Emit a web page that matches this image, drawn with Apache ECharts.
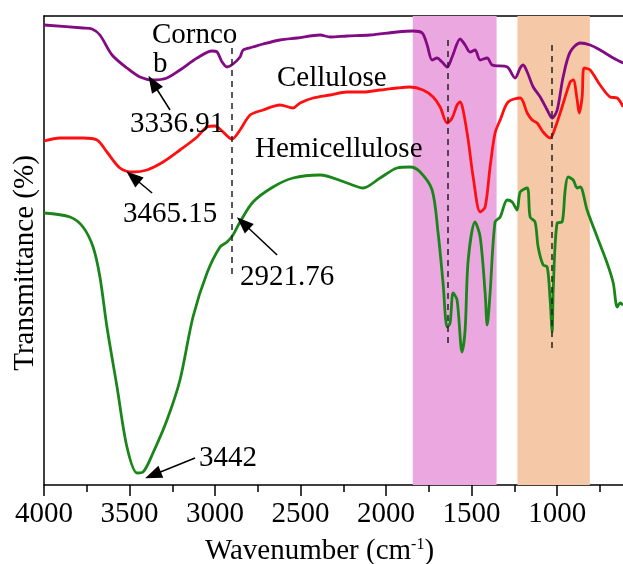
<!DOCTYPE html>
<html>
<head>
<meta charset="utf-8">
<script src="https://cdn.jsdelivr.net/npm/echarts@6/dist/echarts.min.js"></script>
<style>
  html, body { margin: 0; padding: 0; background: #fff; }
  #main { width: 623px; height: 564px; }
</style>
</head>
<body>
<div id="main"></div>
<script>
// wavenumber (cm-1), transmittance (arbitrary units, stacked spectra)
var corncobWn = [4000,3772,3719,3673,3602,3515,3439,3363,3281,3205,3105,3018,2988,2959,2930,2895,2854,2836,2778,2719,2620,2520,2386,2327,2228,2094,1936,1842,1789,1760,1731,1702,1673,1643,1614,1567,1538,1509,1480,1450,1409,1380,1292,1246,1216,1199,1175,1140,1099,1058,1029,1000,965,924,865,807,749,672,614];
var corncobT  = [460,457,456,450,430,417,408,405,407,415,427,434,433,423,418,421,428,435,438,441,445,447,450,448,449,450,453,454,452,440,425,427,423,418,428,446,440,433,435,425,427,420,418,407,417,420,413,398,388,375,367,375,408,433,442,440,435,427,422];

var celluloseWn = [4000,3906,3772,3690,3632,3556,3480,3398,3304,3205,3105,3047,3000,2959,2901,2854,2795,2719,2620,2544,2503,2427,2327,2228,2135,2035,1936,1860,1784,1725,1684,1643,1614,1585,1567,1550,1520,1491,1450,1421,1392,1363,1333,1287,1216,1175,1146,1117,1082,1041,1012,971,924,906,883,871,854,842,807,749,690,649,614];
var celluloseT  = [344,347,347,345,333,317,313,315,323,335,348,358,359,354,346,355,370,375,380,377,382,387,390,393,393,395,397,398,395,388,378,362,367,380,383,375,345,308,273,278,318,352,365,383,387,372,365,362,353,347,357,378,403,405,385,372,388,417,415,400,388,387,378];

var hemiWn = [4000,3848,3772,3713,3673,3632,3573,3515,3456,3421,3363,3281,3205,3129,3047,2971,2930,2895,2854,2778,2661,2544,2386,2228,2135,2035,1936,1860,1801,1731,1696,1667,1643,1626,1608,1585,1556,1538,1520,1480,1450,1421,1409,1392,1363,1333,1292,1263,1234,1216,1175,1158,1129,1111,1082,1058,1041,1029,1023,1000,971,953,936,906,883,865,825,766,708,672,649,632,614];
var hemiT  = [272,268,258,238,208,158,98,38,12,13,32,65,105,168,212,238,243,250,263,283,298,307,310,302,297,307,317,318,313,295,252,202,158,162,192,185,133,155,225,263,248,192,160,192,263,268,285,283,275,293,297,268,263,238,220,218,185,153,195,262,263,295,308,305,297,298,275,248,222,202,178,182,180];

var majorTicks = [4000,3500,3000,2500,2000,1500,1000];
var minorTicks = [3750,3250,2750,2250,1750,1250,750];
var bands = [[1844,1354,'#eba8e0'],[1232,809,'#f5c8a8']];
var peakLines = [[2902,437,208],[1639,445,137],[1029,440,132]];
// arrows: [tailWn, tailT, headWn, headT]
var arrows = [[3263,375,3363,402],[3368,292,3480,308],[2637,230,2836,262],[3117,27,3363,10]];

function pairs(xs, ys) {
  return xs.map(function (x, i) { return [x, ys[i]]; });
}

var serifFont = 'Liberation Serif';
var main = document.getElementById('main');
var myChart = echarts.init(main);

function txt(s, x, y) {
  return {
    type: 'text', x: x, y: y, z: 10,
    style: { text: s, fill: '#000', font: '29px "' + serifFont + '"', verticalAlign: 'bottom' }
  };
}

var option = {
  animation: false,
  grid: { left: 44, right: 0, top: 16, bottom: 79, outerBoundsMode: 'none', containLabel: false },
  xAxis: [
    {
      type: 'value', inverse: true, min: 615, max: 4000, position: 'bottom',
      splitLine: { show: false },
      axisLine: { show: true, lineStyle: { color: '#000', width: 1.5 } },
      axisTick: { show: true, length: 11, customValues: majorTicks, lineStyle: { color: '#000', width: 1.5 } },
      axisLabel: {
        customValues: majorTicks, margin: 15, color: '#000', fontFamily: serifFont, fontSize: 29,
        formatter: function (v) { return String(v); }
      },
      name: 'Wavenumber (cm{s|-1})', nameLocation: 'middle', nameGap: 52,
      nameTextStyle: {
        color: '#000', fontFamily: serifFont, fontSize: 29, padding: [0, 28, 0, 0],
        rich: { s: { fontFamily: serifFont, fontSize: 16, verticalAlign: 'top', padding: [0, 0, 12, 0] } }
      }
    },
    {
      type: 'value', inverse: true, min: 615, max: 4000, position: 'bottom',
      splitLine: { show: false },
      axisLine: { show: false },
      axisTick: { show: true, length: 7, customValues: minorTicks, lineStyle: { color: '#000', width: 1.5 } },
      axisLabel: { show: false }
    },
    {
      type: 'value', inverse: true, min: 615, max: 4000, position: 'top',
      splitLine: { show: false },
      axisLine: { show: true, lineStyle: { color: '#000', width: 1.5 } },
      axisTick: { show: false }, axisLabel: { show: false }
    }
  ],
  yAxis: {
    type: 'value', min: 0, max: 469,
    splitLine: { show: false },
    axisLine: { show: true, lineStyle: { color: '#000', width: 1.5 } },
    axisTick: { show: false }, axisLabel: { show: false }
  },
  graphic: [
    {
      type: 'text', x: 25, y: 263, rotation: Math.PI / 2, z: 10,
      style: { text: 'Transmittance (%)', fill: '#000', font: '29px "' + serifFont + '"', align: 'center', verticalAlign: 'middle' }
    },
    txt('Cornco', 152, 50),
    txt('b', 153, 79),
    txt('3336.91', 130, 139),
    txt('Cellulose', 277, 93),
    txt('Hemicellulose', 255, 164),
    txt('3465.15', 123, 229),
    txt('2921.76', 240, 292),
    txt('3442', 199, 473)
  ],
  series: [
    {
      type: 'line', data: [], z: 1, silent: true,
      markArea: {
        silent: true,
        data: bands.map(function (b) {
          return [{ xAxis: b[0], itemStyle: { color: b[2], opacity: 1 } }, { xAxis: b[1] }];
        })
      }
    },
    {
      name: 'Corncob', type: 'line', data: pairs(corncobWn, corncobT), showSymbol: false, smooth: 0.3,
      lineStyle: { color: '#820a82', width: 2.8 }, itemStyle: { color: '#820a82' }, z: 3
    },
    {
      name: 'Cellulose', type: 'line', data: pairs(celluloseWn, celluloseT), showSymbol: false, smooth: 0.3,
      lineStyle: { color: '#ff1010', width: 2.8 }, itemStyle: { color: '#ff1010' }, z: 3
    },
    {
      name: 'Hemicellulose', type: 'line', data: pairs(hemiWn, hemiT), showSymbol: false, smooth: 0.3,
      lineStyle: { color: '#1a861a', width: 2.8 }, itemStyle: { color: '#1a861a' }, z: 3
    },
    {
      type: 'line', data: [], z: 4, silent: true,
      markLine: {
        silent: true, animation: false,
        label: { show: false },
        data: peakLines.map(function (p) {
          return [
            { coord: [p[0], p[1]], symbol: 'none', lineStyle: { color: '#222', width: 1.5, type: [6, 5] } },
            { coord: [p[0], p[2]], symbol: 'none' }
          ];
        }).concat(arrows.map(function (a) {
          return [
            { coord: [a[0], a[1]], symbol: 'none', lineStyle: { color: '#000', width: 1.5, type: 'solid' } },
            { coord: [a[2], a[3]], symbol: 'triangle', symbolSize: [13, 17] }
          ];
        }))
      }
    }
  ]
};

myChart.setOption(option);
</script>
</body>
</html>
